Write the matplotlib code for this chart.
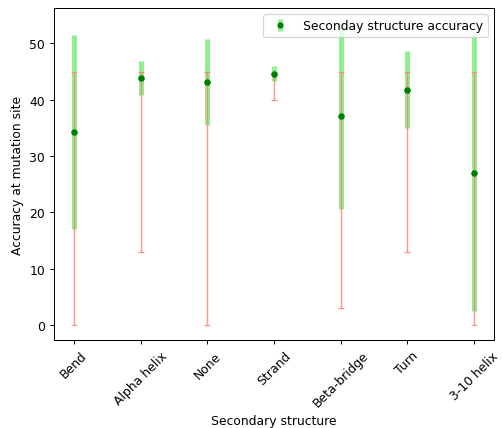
import matplotlib.pyplot as plt
import numpy as np

structures = ["Bend", "Alpha helix", "None", "Strand", "Beta-bridge", "Turn", "3-10 helix"]
mean_acc = [34.3, 43.9, 43.1, 44.6, 37.1, 41.8, 27.0]
std_acc = [17.2, 3.0, 7.6, 1.3, 16.5, 6.85, 24.6]
min_acc = [0.0, 13.0, 0.0, 40.0, 3.0, 13.0, 0.0]
max_acc = [45.0, 45.0, 45.0, 45.0, 45.0, 45.0, 45.0]

x = np.arange(len(structures))
mean = np.array(mean_acc)

fig = plt.figure(figsize=(503 / 89, 429 / 89), dpi=89)
ax = fig.add_axes([0.107, 0.205, 0.875, 0.774])

# std as thick green bars, full range as thin red bars with caps
ax.errorbar(x, mean, yerr=std_acc, fmt='o', color='green', ecolor='lightgreen',
            elinewidth=4, markersize=4, label='Seconday structure accuracy', zorder=2)
ax.errorbar(x, mean, yerr=[mean - np.array(min_acc), np.array(max_acc) - mean],
            fmt='none', ecolor='salmon', alpha=0.8, capsize=2.5, elinewidth=1.2, zorder=3)
ax.plot(x, mean, 'o', color='green', markersize=4, zorder=4)

ax.set_xticks(x)
ax.set_xticklabels(structures, rotation=45)
ax.set_xlabel('Secondary structure')
ax.set_ylabel('Accuracy at mutation site')
ax.legend(loc='upper right')
fig.savefig('out.png', dpi=89)
